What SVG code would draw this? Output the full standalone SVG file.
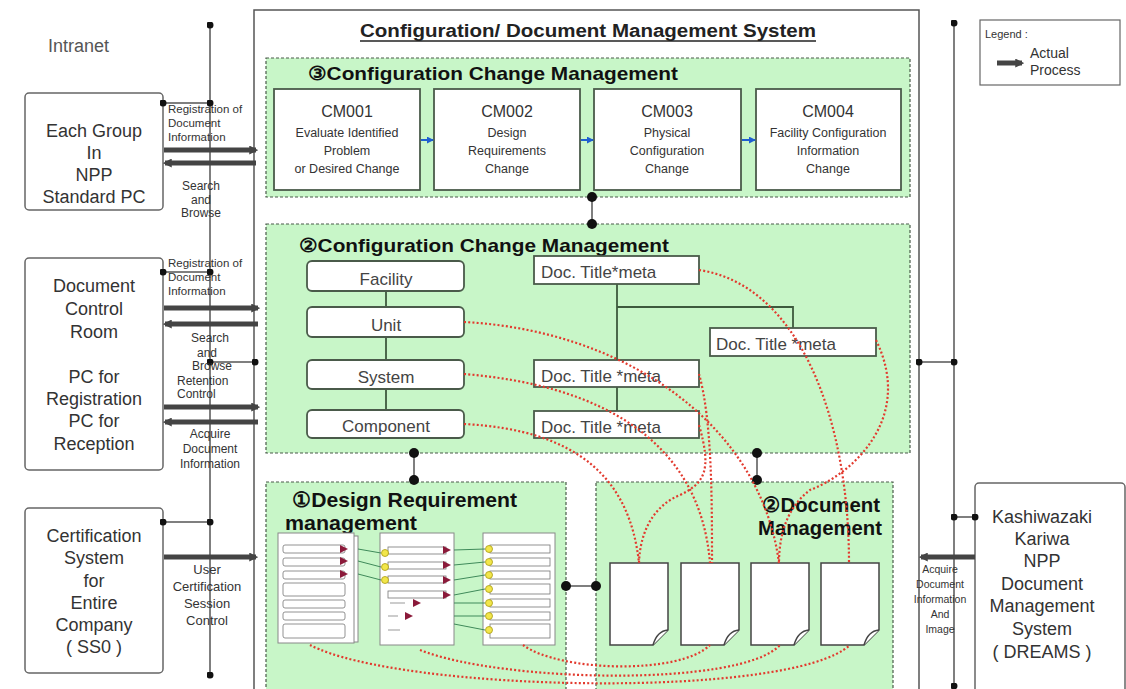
<svg xmlns="http://www.w3.org/2000/svg" width="1126" height="689" viewBox="0 0 1126 689">
<defs>
<style>
text{font-family:"Liberation Sans",Arial,sans-serif;fill:#333}
.big{font-size:18px;text-anchor:middle}
.lbl{font-size:11.5px}
.lbl2{font-size:12px;text-anchor:middle}
.lblc{font-size:10.5px;text-anchor:middle}
.ttl{font-weight:bold;fill:#111}
.grp{fill:#c8f6c8;stroke:#4a5a4a;stroke-width:1.2;stroke-dasharray:3 2}
.ext{fill:#fff;stroke:#666;stroke-width:1.5}
.cm{fill:#fff;stroke:#4a5a4a;stroke-width:1.8}
.cmh{font-size:16px;text-anchor:middle}
.cms{font-size:12.5px;text-anchor:middle}
.hier{fill:#fff;stroke:#4a5a4a;stroke-width:1.8}
.hier-t{font-size:17px;text-anchor:middle;fill:#444}
.doc-t{font-size:17px;fill:#444}
.thin{stroke:#555;stroke-width:1.5;fill:none}
.tree{stroke:#3d5a3d;stroke-width:1.8;fill:none}
.thick{stroke:#444;stroke-width:5;fill:none}
.red{stroke:#e23a2e;stroke-width:2.2;stroke-dasharray:2 2.2;fill:none}
.page{fill:#fff;stroke:#444;stroke-width:1.5}
.pnl{fill:#fff;stroke:#888;stroke-width:1}
.row{fill:#fff;stroke:#777;stroke-width:0.8}
.tri{fill:#8b1a3a}
.yel{fill:#f2e64a;stroke:#a89a10;stroke-width:0.8}
.gl{stroke:#3f8a5a;stroke-width:1;fill:none}
</style>
<marker id="arr" viewBox="0 0 8 8" markerWidth="9" markerHeight="9" refX="6" refY="4" orient="auto" markerUnits="userSpaceOnUse"><path d="M0,0 L8,4 L0,8 z" fill="#444"/></marker>
<marker id="barr" viewBox="0 0 8 8" markerWidth="7" markerHeight="7" refX="7" refY="4" orient="auto" markerUnits="userSpaceOnUse"><path d="M0,0 L8,4 L0,8 z" fill="#1f5fd0"/></marker>
<marker id="dot" viewBox="0 0 8 8" markerWidth="7" markerHeight="7" refX="4" refY="4" markerUnits="userSpaceOnUse"><circle cx="4" cy="4" r="4" fill="#111"/></marker>
<marker id="bdot" viewBox="0 0 8 8" markerWidth="10" markerHeight="10" refX="4" refY="4" markerUnits="userSpaceOnUse"><circle cx="4" cy="4" r="4" fill="#111"/></marker>
</defs>
<rect width="1126" height="689" fill="#fff"/>

<g id="intranet"><text x="48" y="52" style="font-size:18px;fill:#555">Intranet</text></g>

<g id="main-system">
<rect x="254" y="10" width="665" height="700" fill="#fff" stroke="#555" stroke-width="1.5"/>
<text x="588" y="37" class="ttl" style="font-size:18px;text-anchor:middle;fill:#222" textLength="456" lengthAdjust="spacingAndGlyphs">Configuration/ Document Management System</text>
<line x1="360" y1="41" x2="816" y2="41" stroke="#222" stroke-width="1.3"/>
</g>

<g id="group-cm3">
<rect x="266" y="58" width="644" height="139" class="grp"/>
<text x="308" y="80" class="ttl" style="font-size:19px" textLength="370" lengthAdjust="spacingAndGlyphs">③Configuration Change Management</text>
</g>
<g id="cm001"><rect x="274" y="89" width="146" height="101" class="cm"/>
<text x="347" y="117" class="cmh">CM001</text>
<text x="347" y="137" class="cms">Evaluate Identified</text>
<text x="347" y="155" class="cms">Problem</text>
<text x="347" y="173" class="cms">or Desired  Change</text></g>
<g id="cm002"><rect x="434" y="89" width="146" height="101" class="cm"/>
<text x="507" y="117" class="cmh">CM002</text>
<text x="507" y="137" class="cms">Design</text>
<text x="507" y="155" class="cms">Requirements</text>
<text x="507" y="173" class="cms">Change</text></g>
<g id="cm003"><rect x="594" y="89" width="147" height="101" class="cm"/>
<text x="667" y="117" class="cmh">CM003</text>
<text x="667" y="137" class="cms">Physical</text>
<text x="667" y="155" class="cms">Configuration</text>
<text x="667" y="173" class="cms">Change</text></g>
<g id="cm004"><rect x="756" y="89" width="145" height="101" class="cm"/>
<text x="828" y="117" class="cmh">CM004</text>
<text x="828" y="137" class="cms">Facility Configuration</text>
<text x="828" y="155" class="cms">Information</text>
<text x="828" y="173" class="cms">Change</text></g>

<g id="group-cm2">
<rect x="266" y="224" width="644" height="229" class="grp"/>
<text x="299" y="252" class="ttl" style="font-size:19px" textLength="370" lengthAdjust="spacingAndGlyphs">②Configuration Change Management</text>
</g>
<g id="tree-lines">
<line x1="386" y1="291" x2="386" y2="410" class="tree"/>
<path d="M617,284 V411 M617,307 H793 V328" class="tree"/>
</g>
<g id="facility"><rect x="307" y="261" width="157" height="30" rx="5" class="hier"/><text x="386" y="285" class="hier-t">Facility</text></g>
<g id="unit"><rect x="307" y="307" width="157" height="30" rx="5" class="hier"/><text x="386" y="331" class="hier-t">Unit</text></g>
<g id="system"><rect x="307" y="360" width="157" height="29" rx="5" class="hier"/><text x="386" y="383" class="hier-t">System</text></g>
<g id="component"><rect x="307" y="410" width="157" height="28" rx="5" class="hier"/><text x="386" y="432" class="hier-t">Component</text></g>
<g id="doc-title-1"><rect x="534" y="256" width="165" height="28" class="hier"/><text x="541" y="278" class="doc-t">Doc. Title*meta</text></g>
<g id="doc-title-2"><rect x="534" y="360" width="165" height="27" class="hier"/><text x="541" y="382" class="doc-t">Doc. Title *meta</text></g>
<g id="doc-title-3"><rect x="534" y="411" width="165" height="27" class="hier"/><text x="541" y="433" class="doc-t">Doc. Title *meta</text></g>
<g id="doc-title-4"><rect x="710" y="328" width="166" height="28" class="hier"/><text x="716" y="350" class="doc-t">Doc. Title *meta</text></g>

<g id="group-design">
<rect x="266" y="482" width="300" height="220" class="grp"/>
<text x="292" y="507" class="ttl" style="font-size:21px" textLength="225" lengthAdjust="spacingAndGlyphs">①Design Requirement</text>
<text x="285" y="530" class="ttl" style="font-size:21px" textLength="132" lengthAdjust="spacingAndGlyphs">management</text>
<g id="panel-1">
<rect x="351" y="536" width="7" height="106" class="pnl"/>
<rect x="278" y="533" width="76" height="110" class="pnl"/>
<rect x="283" y="545" width="62" height="8" rx="2" class="row"/>
<rect x="283" y="558" width="62" height="8" rx="2" class="row"/>
<rect x="283" y="571" width="62" height="8" rx="2" class="row"/>
<rect x="283" y="583" width="62" height="13" rx="2" class="row"/>
<rect x="283" y="600" width="62" height="8" rx="2" class="row"/>
<rect x="283" y="612" width="62" height="8" rx="2" class="row"/>
<rect x="283" y="624" width="62" height="14" rx="2" class="row"/>
<path d="M340,545 L348,549 L340,553 z M340,557 L348,561 L340,565 z M340,570 L348,574 L340,578 z" class="tri"/>
</g>
<g id="panel-2">
<rect x="380" y="533" width="74" height="112" class="pnl"/>
<rect x="388" y="547" width="58" height="7" class="row"/>
<rect x="388" y="562" width="58" height="7" class="row"/>
<rect x="388" y="576" width="58" height="7" class="row"/>
<rect x="388" y="591" width="58" height="7" class="row"/>
<circle cx="385" cy="553" r="3.5" class="yel"/><circle cx="385" cy="567" r="3.5" class="yel"/><circle cx="385" cy="580" r="3.5" class="yel"/>
<path d="M443,546 L451,550 L443,554 z M443,561 L451,565 L443,569 z M443,576 L451,580 L443,584 z M443,591 L451,595 L443,599 z M413,599 L421,603 L413,607 z M405,612 L413,616 L405,620 z" class="tri"/>
<path d="M390,603 H405 M388,616 H398 M388,630 H400" stroke="#999" stroke-width="1"/>
</g>
<g id="panel-3">
<rect x="483" y="533" width="72" height="112" class="pnl"/>
<rect x="490" y="545" width="60" height="8" class="row"/>
<rect x="490" y="558" width="60" height="8" class="row"/>
<rect x="490" y="571" width="60" height="8" class="row"/>
<rect x="490" y="584" width="60" height="10" class="row"/>
<rect x="490" y="599" width="60" height="8" class="row"/>
<rect x="490" y="612" width="60" height="8" class="row"/>
<rect x="490" y="624" width="60" height="14" class="row"/>
<circle cx="489" cy="549" r="3.5" class="yel"/><circle cx="489" cy="562" r="3.5" class="yel"/><circle cx="489" cy="575" r="3.5" class="yel"/><circle cx="489" cy="589" r="3.5" class="yel"/><circle cx="489" cy="603" r="3.5" class="yel"/><circle cx="489" cy="616" r="3.5" class="yel"/><circle cx="489" cy="630" r="3.5" class="yel"/>
</g>
<path d="M358,549 L381,553 M358,561 L381,567 M358,574 L381,580 M454,550 L485,549 M454,565 L485,562 M454,580 L485,575 M454,595 L485,589 M454,603 L485,603 M454,616 L485,616 M454,624 L485,630" class="gl"/>
</g>

<g id="group-docmgmt">
<rect x="596" y="482" width="297" height="220" class="grp"/>
<text x="880" y="512" class="ttl" style="font-size:21px;text-anchor:end" textLength="118" lengthAdjust="spacingAndGlyphs">②Document</text>
<text x="882" y="535" class="ttl" style="font-size:21px;text-anchor:end" textLength="124" lengthAdjust="spacingAndGlyphs">Management</text>
</g>
<g id="doc-1"><path d="M610,563 H668 V630 L653,645 H610 Z" class="page"/><path d="M668,630 Q657,631 653,645" class="page"/></g>
<g id="doc-2"><path d="M681,563 H739 V630 L724,645 H681 Z" class="page"/><path d="M739,630 Q728,631 724,645" class="page"/></g>
<g id="doc-3"><path d="M751,563 H809 V630 L794,645 H751 Z" class="page"/><path d="M809,630 Q798,631 794,645" class="page"/></g>
<g id="doc-4"><path d="M821,563 H879 V630 L864,645 H821 Z" class="page"/><path d="M879,630 Q868,631 864,645" class="page"/></g>

<g id="each-group"><rect x="25" y="93" width="138" height="117" rx="4" class="ext"/>
<text x="94" y="137" class="big">Each Group</text><text x="94" y="159" class="big">In</text><text x="94" y="181" class="big">NPP</text><text x="94" y="203" class="big">Standard PC</text></g>
<g id="doc-control"><rect x="25" y="258" width="138" height="212" rx="4" class="ext"/>
<text x="94" y="292" class="big">Document</text><text x="94" y="315" class="big">Control</text><text x="94" y="338" class="big">Room</text>
<text x="94" y="383" class="big">PC for</text><text x="94" y="405" class="big">Registration</text><text x="94" y="427" class="big">PC for</text><text x="94" y="450" class="big">Reception</text></g>
<g id="certification"><rect x="25" y="508" width="138" height="165" rx="4" class="ext"/>
<text x="94" y="542" class="big">Certification</text><text x="94" y="564" class="big">System</text><text x="94" y="587" class="big">for</text><text x="94" y="609" class="big">Entire</text><text x="94" y="631" class="big">Company</text><text x="94" y="653" class="big">( SS0 )</text></g>
<g id="dreams"><rect x="975" y="483" width="150" height="230" rx="4" class="ext"/>
<text x="1042" y="523" class="big">Kashiwazaki</text><text x="1042" y="545" class="big">Kariwa</text><text x="1042" y="567" class="big">NPP</text><text x="1042" y="590" class="big">Document</text><text x="1042" y="612" class="big">Management</text><text x="1042" y="635" class="big">System</text><text x="1042" y="658" class="big">( DREAMS )</text></g>
<g id="legend"><rect x="980" y="20" width="140" height="65" fill="#fff" stroke="#666" stroke-width="1.2"/>
<text x="985" y="38" style="font-size:11px">Legend :</text>
<line x1="997" y1="63" x2="1022" y2="63" class="thick" marker-end="url(#arr)"/>
<text x="1030" y="58" style="font-size:14px">Actual</text><text x="1030" y="75" style="font-size:14px">Process</text></g>

<g id="connectors">
<line x1="210" y1="25" x2="210" y2="675" class="thin" marker-start="url(#dot)" marker-end="url(#dot)"/>
<line x1="954" y1="23" x2="954" y2="686" class="thin" marker-start="url(#dot)" marker-end="url(#dot)"/>
<line x1="163" y1="103" x2="210" y2="103" class="thin" marker-start="url(#dot)" marker-end="url(#dot)"/>
<line x1="163" y1="272" x2="210" y2="272" class="thin" marker-start="url(#dot)" marker-end="url(#dot)"/>
<line x1="210" y1="362" x2="255" y2="362" class="thin" marker-start="url(#dot)" marker-end="url(#dot)"/>
<line x1="163" y1="522" x2="210" y2="522" class="thin" marker-start="url(#dot)" marker-end="url(#dot)"/>
<line x1="919" y1="362" x2="954" y2="362" class="thin" marker-start="url(#dot)" marker-end="url(#dot)"/>
<line x1="954" y1="517" x2="975" y2="517" class="thin" marker-start="url(#dot)" marker-end="url(#dot)"/>
<line x1="592" y1="197" x2="592" y2="224" class="thin" stroke-width="2" marker-start="url(#bdot)" marker-end="url(#bdot)"/>
<line x1="414" y1="453" x2="414" y2="480" class="thin" stroke-width="2" marker-start="url(#bdot)" marker-end="url(#bdot)"/>
<line x1="757" y1="453" x2="757" y2="480" class="thin" stroke-width="2" marker-start="url(#bdot)" marker-end="url(#bdot)"/>
<line x1="566" y1="586" x2="596" y2="586" class="thin" stroke-width="2" marker-start="url(#bdot)" marker-end="url(#bdot)"/>
<line x1="164" y1="150" x2="256" y2="150" class="thick" marker-end="url(#arr)"/>
<line x1="256" y1="163" x2="165" y2="163" class="thick" marker-end="url(#arr)"/>
<line x1="164" y1="308" x2="258" y2="308" class="thick" marker-end="url(#arr)"/>
<line x1="258" y1="324" x2="165" y2="324" class="thick" marker-end="url(#arr)"/>
<line x1="164" y1="407" x2="258" y2="407" class="thick" marker-end="url(#arr)"/>
<line x1="258" y1="422" x2="165" y2="422" class="thick" marker-end="url(#arr)"/>
<line x1="164" y1="557" x2="256" y2="557" class="thick" marker-end="url(#arr)"/>
<line x1="975" y1="557" x2="921" y2="557" class="thick" marker-end="url(#arr)"/>
<line x1="421" y1="140" x2="433" y2="140" stroke="#1f5fd0" stroke-width="2" marker-end="url(#barr)"/>
<line x1="581" y1="140" x2="593" y2="140" stroke="#1f5fd0" stroke-width="2" marker-end="url(#barr)"/>
<line x1="742" y1="140" x2="755" y2="140" stroke="#1f5fd0" stroke-width="2" marker-end="url(#barr)"/>
<path class="red" d="M464,322 C620,330 760,420 779,563"/>
<path class="red" d="M464,374 C600,385 700,440 710,563"/>
<path class="red" d="M464,424 C580,430 630,480 639,563"/>
<path class="red" d="M699,270 C800,285 849,420 849,563"/>
<path class="red" d="M876,340 C915,420 850,475 810,490 C790,505 779,530 779,563"/>
<path class="red" d="M699,374 C712,420 712,500 712,563"/>
<path class="red" d="M699,425 C712,470 705,483 680,495 C655,505 640,530 639,563"/>
<path class="red" d="M310,645 C400,692 790,700 850,645"/>
<path class="red" d="M420,650 C500,682 740,688 780,645"/>
<path class="red" d="M523,645 C560,672 680,675 710,645"/>
</g>

<g id="labels">
<text x="168" y="113" class="lbl">Registration of</text><text x="168" y="127" class="lbl">Document</text><text x="168" y="141" class="lbl">Information</text>
<text x="201" y="190" class="lbl2">Search</text><text x="201" y="204" class="lbl2">and</text><text x="201" y="217" class="lbl2">Browse</text>
<text x="168" y="267" class="lbl">Registration of</text><text x="168" y="281" class="lbl">Document</text><text x="168" y="295" class="lbl">Information</text>
<text x="210" y="342" class="lbl2">Search</text><text x="207" y="357" class="lbl2">and</text><text x="212" y="370" class="lbl2">Browse</text>
<text x="177" y="385" style="font-size:12px">Retention</text><text x="177" y="398" style="font-size:12px">Control</text>
<text x="210" y="438" class="lbl2">Acquire</text><text x="210" y="453" class="lbl2">Document</text><text x="210" y="468" class="lbl2">Information</text>
<text x="207" y="574" class="lbl2" style="font-size:13px">User</text><text x="207" y="591" class="lbl2" style="font-size:13px">Certification</text><text x="207" y="608" class="lbl2" style="font-size:13px">Session</text><text x="207" y="625" class="lbl2" style="font-size:13px">Control</text>
<text x="940" y="573" class="lblc">Acquire</text><text x="940" y="588" class="lblc">Document</text><text x="940" y="603" class="lblc">Information</text><text x="940" y="618" class="lblc">And</text><text x="940" y="633" class="lblc">Image</text>
</g>
</svg>
